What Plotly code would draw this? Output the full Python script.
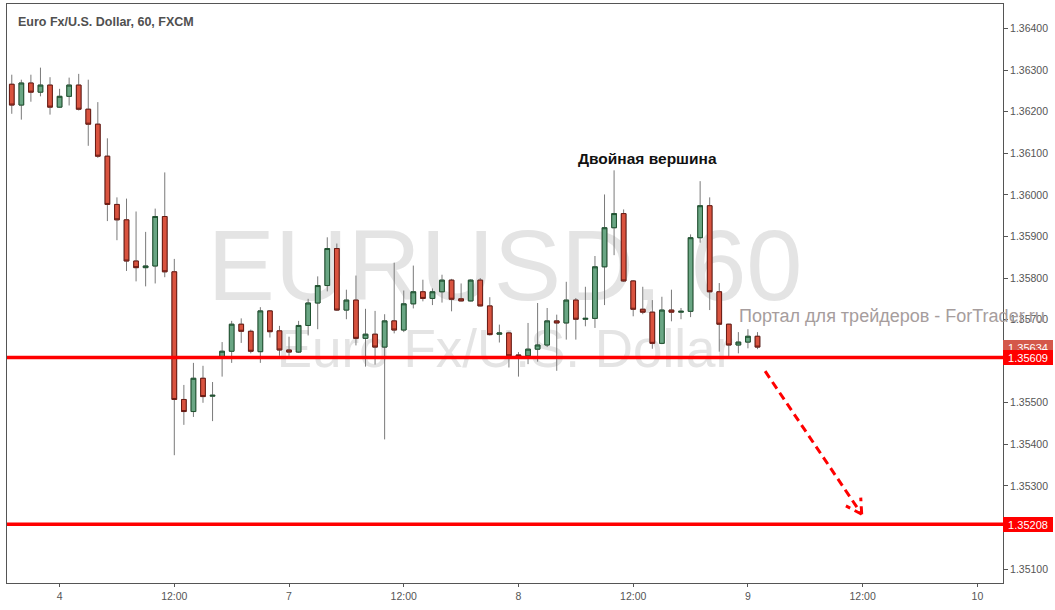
import plotly.graph_objects as go

# ---------------- data ----------------
bar_index = list(range(79))
opens = [1.36266, 1.36216, 1.36269, 1.36247, 1.36264, 1.36211, 1.36237, 1.36264, 1.36206, 1.36170,
         1.36093, 1.35977, 1.35940, 1.35841, 1.35825, 1.35829, 1.35948, 1.35815, 1.35508, 1.35479,
         1.35559, 1.35516, 1.35611, 1.35624, 1.35689, 1.35672, 1.35623, 1.35721, 1.35673, 1.35627,
         1.35622, 1.35686, 1.35740, 1.35782, 1.35871, 1.35723, 1.35747, 1.35655, 1.35665, 1.35634,
         1.35697, 1.35675, 1.35738, 1.35767, 1.35751, 1.35767, 1.35795, 1.35750, 1.35745, 1.35795,
         1.35733, 1.35665, 1.35668, 1.35615, 1.35613, 1.35629, 1.35639, 1.35697, 1.35692, 1.35747,
         1.35701, 1.35703, 1.35827, 1.35921, 1.35955, 1.35793, 1.35725, 1.35718, 1.35643, 1.35723,
         1.35718, 1.35720, 1.35897, 1.35974, 1.35767, 1.35689, 1.35639, 1.35646, 1.35660]
highs = [1.36289, 1.36277, 1.36289, 1.36306, 1.36283, 1.36255, 1.36282, 1.36291, 1.36277, 1.36223,
         1.36136, 1.35994, 1.35991, 1.35960, 1.35911, 1.35967, 1.36054, 1.35846, 1.35543, 1.35596,
         1.35589, 1.35550, 1.35646, 1.35697, 1.35703, 1.35676, 1.35730, 1.35723, 1.35685, 1.35659,
         1.35697, 1.35750, 1.35804, 1.35898, 1.35883, 1.35772, 1.35806, 1.35726, 1.35721, 1.35713,
         1.35837, 1.35770, 1.35830, 1.35796, 1.35775, 1.35808, 1.35798, 1.35787, 1.35797, 1.35800,
         1.35754, 1.35688, 1.35671, 1.35622, 1.35692, 1.35740, 1.35728, 1.35712, 1.35791, 1.35752,
         1.35779, 1.35853, 1.36001, 1.36059, 1.35965, 1.35795, 1.35779, 1.35747, 1.35755, 1.35772,
         1.35728, 1.35905, 1.36033, 1.35994, 1.35788, 1.35690, 1.35670, 1.35677, 1.35670]
lows = [1.36195, 1.36181, 1.36224, 1.36237, 1.36193, 1.36209, 1.36215, 1.36203, 1.36118, 1.36089,
        1.35937, 1.35891, 1.35817, 1.35792, 1.35780, 1.35787, 1.35802, 1.35374, 1.35447, 1.35466,
        1.35500, 1.35456, 1.35563, 1.35596, 1.35644, 1.35619, 1.35596, 1.35657, 1.35613, 1.35613,
        1.35620, 1.35662, 1.35677, 1.35768, 1.35721, 1.35701, 1.35638, 1.35587, 1.35592, 1.35412,
        1.35667, 1.35670, 1.35727, 1.35744, 1.35735, 1.35741, 1.35720, 1.35744, 1.35744, 1.35732,
        1.35662, 1.35645, 1.35585, 1.35563, 1.35593, 1.35599, 1.35634, 1.35577, 1.35652, 1.35652,
        1.35684, 1.35680, 1.35735, 1.35855, 1.35791, 1.35708, 1.35713, 1.35630, 1.35641, 1.35696,
        1.35701, 1.35706, 1.35885, 1.35723, 1.35623, 1.35611, 1.35619, 1.35631, 1.35629]
closes = [1.36216, 1.36269, 1.36247, 1.36264, 1.36211, 1.36237, 1.36264, 1.36206, 1.36170, 1.36093,
          1.35977, 1.35940, 1.35841, 1.35825, 1.35829, 1.35948, 1.35815, 1.35508, 1.35479, 1.35559,
          1.35515, 1.35518, 1.35624, 1.35689, 1.35672, 1.35624, 1.35721, 1.35671, 1.35627, 1.35622,
          1.35686, 1.35740, 1.35782, 1.35871, 1.35723, 1.35747, 1.35655, 1.35665, 1.35634, 1.35697,
          1.35675, 1.35738, 1.35767, 1.35751, 1.35767, 1.35795, 1.35749, 1.35745, 1.35795, 1.35733,
          1.35664, 1.35668, 1.35613, 1.35613, 1.35629, 1.35639, 1.35697, 1.35692, 1.35747, 1.35701,
          1.35703, 1.35827, 1.35921, 1.35955, 1.35793, 1.35725, 1.35718, 1.35643, 1.35723, 1.35718,
          1.35720, 1.35897, 1.35974, 1.35767, 1.35689, 1.35639, 1.35646, 1.35660, 1.35634]

x_tick_pos = [5, 17, 29, 41, 53, 65, 77, 89, 101]
x_tick_text = ["4", "12:00", "7", "12:00", "8", "12:00", "9", "12:00", "10"]
y_tick_vals = [1.351, 1.353, 1.354, 1.355, 1.357, 1.358, 1.359, 1.360, 1.361, 1.362, 1.363, 1.364]

levels = [1.35609, 1.35208]

arrow_x = [78.8, 88.9]
arrow_y = [1.35576, 1.35232]
head_a_x = [88.9, 87.25]
head_a_y = [1.35232, 1.35252]
head_b_x = [88.9, 88.8]
head_b_y = [1.35232, 1.35272]

pattern_label = "Двойная вершина"
pattern_x = 66.45
pattern_y = 1.36088

title_text = "Euro Fx/U.S. Dollar, 60, FXCM"
wm_main = "EURUSD, 60"
wm_sub = "Euro Fx/U.S. Dollar"
site_text = "Портал для трейдеров - ForTrader.ru"

# ---------------- styles ----------------
RED_FILL = "#d9533f"
RED_LINE = "#6a1b14"
GRN_FILL = "#6aa684"
GRN_LINE = "#1f5230"
WICK = "#7a7a7a"
AXIS = "#555555"
FONT = "Arial, Liberation Sans, sans-serif"

body_hi = [max(o, c) for o, c in zip(opens, closes)]
body_lo = [min(o, c) for o, c in zip(opens, closes)]

fig = go.Figure()

# wicks (gray)
fig.add_trace(go.Candlestick(
    x=bar_index, open=opens, high=highs, low=lows, close=closes,
    increasing=dict(line=dict(color=WICK, width=1), fillcolor=GRN_FILL),
    decreasing=dict(line=dict(color=WICK, width=1), fillcolor=RED_FILL),
    whiskerwidth=0, hoverinfo="skip", showlegend=False,
))
# bodies (dark outline)
fig.add_trace(go.Candlestick(
    x=bar_index, open=opens, high=body_hi, low=body_lo, close=closes,
    increasing=dict(line=dict(color=GRN_LINE, width=1), fillcolor=GRN_FILL),
    decreasing=dict(line=dict(color=RED_LINE, width=1), fillcolor=RED_FILL),
    whiskerwidth=0, hoverinfo="skip", showlegend=False,
))

# dashed arrow
for xs, ys in [(arrow_x, arrow_y), (head_a_x, head_a_y), (head_b_x, head_b_y)]:
    fig.add_trace(go.Scatter(
        x=xs, y=ys, mode="lines",
        line=dict(color="#ff0000", width=3, dash="8px,5px"),
        hoverinfo="skip", showlegend=False,
    ))

shapes = []
# watermark (below candles)
shapes.append(dict(
    type="rect", xref="paper", yref="paper", x0=0.15, x1=0.85, y0=0.512, y1=0.622,
    line=dict(width=0), fillcolor="rgba(0,0,0,0)", layer="below",
    label=dict(text=wm_main, textposition="middle center",
               font=dict(family=FONT, size=101, color="#e4e4e4")),
))
shapes.append(dict(
    type="rect", xref="paper", yref="paper", x0=0.15, x1=0.85, y0=0.379, y1=0.449,
    line=dict(width=0), fillcolor="rgba(0,0,0,0)", layer="below",
    label=dict(text=wm_sub, textposition="middle center",
               font=dict(family=FONT, size=53, color="#e4e4e4")),
))
# horizontal levels
for lv in levels:
    shapes.append(dict(
        type="line", xref="paper", yref="y", x0=0, x1=1, y0=lv, y1=lv,
        line=dict(color="#ff0000", width=3.5), layer="above",
    ))

annotations = [
    dict(text=title_text, xref="paper", yref="paper", x=0.0087, y=0.9694,
         xanchor="left", yanchor="middle", showarrow=False,
         font=dict(family=FONT, size=12.5, color="#505050", weight="bold")),
    dict(text="<b>" + pattern_label + "</b>", xref="x", yref="y", x=pattern_x, y=pattern_y,
         xanchor="center", yanchor="middle", showarrow=False,
         font=dict(family=FONT, size=15.5, color="#111111")),
    dict(text=site_text, xref="paper", yref="paper", x=0.7325, y=0.461,
         xanchor="left", yanchor="middle", showarrow=False,
         font=dict(family=FONT, size=18, color="#a69d9d")),
    dict(text=f"{closes[-1]:.5f}", xref="paper", yref="y", x=1, y=closes[-1],
         xanchor="left", yanchor="middle", showarrow=False, bgcolor="#d4584a",
         width=46, height=11, borderpad=1, borderwidth=1, bordercolor="#d4584a",
         font=dict(family=FONT, size=11, color="white")),
]
for lv in levels:
    annotations.append(dict(
        text=f"{lv:.5f}", xref="paper", yref="y", x=1, y=lv,
        xanchor="left", yanchor="middle", showarrow=False, bgcolor="#ff0000",
        width=46, height=11, borderpad=1, borderwidth=1, bordercolor="#ff0000",
        font=dict(family=FONT, size=11, color="white"),
    ))

fig.update_layout(
    width=1055, height=610,
    margin=dict(l=7, r=52, t=4, b=27),
    paper_bgcolor="white", plot_bgcolor="white",
    showlegend=False,
    font=dict(family=FONT, color=AXIS),
    shapes=shapes, annotations=annotations,
    xaxis=dict(
        range=[-0.5, 103.68], showgrid=False, zeroline=False,
        showline=True, linecolor=AXIS, linewidth=1, mirror=True,
        ticks="outside", ticklen=3, tickcolor=AXIS,
        tickvals=x_tick_pos, ticktext=x_tick_text,
        tickfont=dict(family=FONT, size=10.5, color=AXIS),
        rangeslider=dict(visible=False), fixedrange=True,
    ),
    yaxis=dict(
        side="right", range=[1.350667, 1.36459], showgrid=False, zeroline=False,
        showline=True, linecolor=AXIS, linewidth=1, mirror=True,
        ticks="outside", ticklen=4, tickcolor=AXIS,
        tickvals=y_tick_vals, tickformat=".5f",
        tickfont=dict(family=FONT, size=10.5, color=AXIS), fixedrange=True,
    ),
)

fig.write_html(
    "out.html",
    config={"displayModeBar": False},
    post_script="document.body.style.margin='0px';document.body.style.overflow='hidden';",
)
